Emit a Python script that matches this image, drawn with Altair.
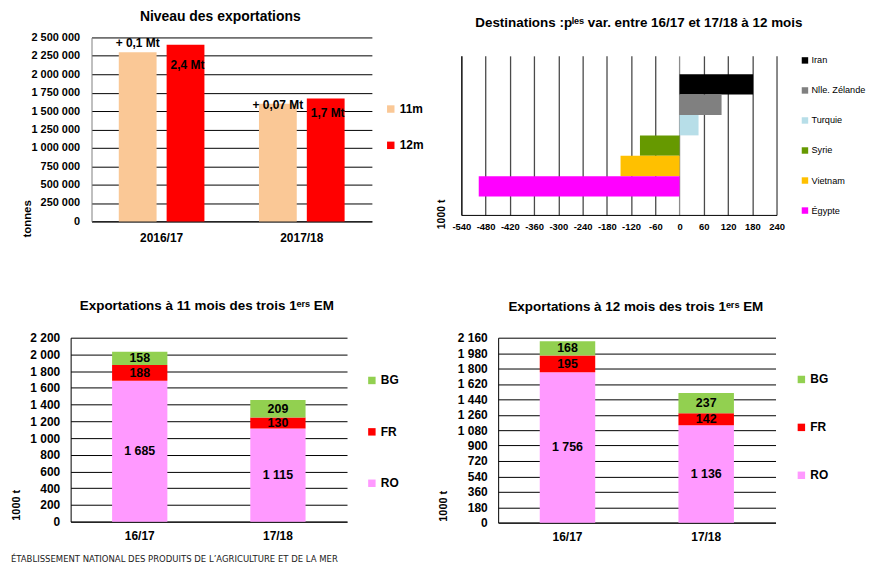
import altair as alt
import pandas as pd

FONT = "Liberation Sans"

# ---------------- Panel 1 : Niveau des exportations ----------------
periods = ["2016/17", "2017/18"]
months = ["11m", "12m"]
exports_11m = [2300000, 1600000]
exports_12m = [2400000, 1670000]
diff_labels = ["+ 0,1 Mt", "+ 0,07 Mt"]
total_labels = ["2,4 Mt", "1,7 Mt"]
month_colors = ["#FAC896", "#FF0000"]

# ---------------- Panel 2 : Destinations ----------------
destinations = ["Iran", "Nlle. Zélande", "Turquie", "Syrie", "Vietnam", "Égypte"]
variations = [182, 104, 47, -98, -146, -497]
dest_colors = ["#000000", "#808080", "#B7DEE8", "#669900", "#FFC000", "#FF00FF"]

# ---------------- Panels 3-4 : trois 1ers EM ----------------
seasons = ["16/17", "17/18"]
members = ["BG", "FR", "RO"]
member_colors = ["#92D050", "#FF0000", "#FF99FF"]
ro_11 = [1685, 1115]
fr_11 = [188, 130]
bg_11 = [158, 209]
ro_12 = [1756, 1136]
fr_12 = [195, 142]
bg_12 = [168, 237]

SPACE_EXPR = "replace(format(datum.value, ','), regexp(',', 'g'), ' ')"


def fmt(v):
    return f"{v:,}".replace(",", " ")


# ---------- Panel 1 ----------
df1 = pd.DataFrame({
    "period": periods * 2,
    "month": ["11m"] * 2 + ["12m"] * 2,
    "value": exports_11m + exports_12m,
    "label": diff_labels + total_labels,
})

x1_scale = alt.Scale(paddingInner=0, paddingOuter=0, range=[21, 303])
x1_axis = alt.Axis(title=None, labelAngle=0, labelFontSize=12, labelFontWeight="bold",
                   labelPadding=11, ticks=False, domainColor="black")
xo1_scale = alt.Scale(paddingInner=0.21, paddingOuter=0.57)
y1_scale = alt.Scale(domain=[0, 2500000], nice=False)
y1_axis = alt.Axis(values=list(range(0, 2500001, 250000)), labelExpr=SPACE_EXPR,
                   labelOverlap=False, offset=-21,
                   title="tonnes", titleX=-64, titleY=182, titleAngle=270,
                   titleBaseline="middle", titleFontSize=11.5, titleFontWeight="bold",
                   grid=True, gridColor="black", domainColor="#808080", ticks=False,
                   labelFontSize=11, labelFontWeight="bold", labelPadding=12)


def enc1():
    return dict(
        x=alt.X("period:N", sort=periods, scale=x1_scale, axis=x1_axis),
        xOffset=alt.XOffset("month:N", sort=months, scale=xo1_scale),
        y=alt.Y("value:Q", scale=y1_scale, axis=y1_axis),
    )


bars1 = alt.Chart(df1).mark_bar().encode(
    **enc1(),
    color=alt.Color("month:N", scale=alt.Scale(domain=months, range=month_colors),
                    legend=alt.Legend(title=None, orient="none", legendX=316, legendY=66,
                                      symbolType="square", symbolSize=56, symbolStrokeWidth=0,
                                      labelFontSize=12, labelFontWeight="bold", rowPadding=24.5,
                                      padding=0, labelOffset=3)),
)

text_specs = [
    ("11m", "2016/17", "bottom", -2, 0),
    ("11m", "2017/18", "bottom", 8, 0),
    ("12m", "2016/17", "middle", 20, 2),
    ("12m", "2017/18", "middle", 15, 2),
]
texts1 = []
for m, p, base, dy, dx in text_specs:
    texts1.append(
        alt.Chart(df1).transform_filter(
            (alt.datum.month == m) & (alt.datum.period == p)
        ).mark_text(fontSize=12, fontWeight="bold", color="black", baseline=base, dy=dy,
                    dx=dx).encode(**enc1(), text="label:N")
    )

p1 = alt.layer(bars1, *texts1).properties(
    width=303, height=185,
    title=alt.TitleParams("Niveau des exportations", fontSize=14, fontWeight="bold",
                          anchor="middle", frame="group", dx=-1, offset=8),
)

# ---------- Panel 2 ----------
df2 = pd.DataFrame({"dest": destinations, "var": variations})
x2 = alt.X("var:Q", scale=alt.Scale(domain=[-540, 240], nice=False),
           axis=alt.Axis(values=list(range(-540, 241, 60)), labelExpr="'' + datum.value",
                         labelOverlap=False, title=None, grid=True,
                         gridColor=alt.condition("datum.value === 0", alt.value("#8c8c8c"),
                                                 alt.value("#4a4a4a")),
                         gridWidth=1.3, ticks=False, domainColor="black",
                         labelFontSize=9.5, labelFontWeight="bold", labelPadding=7,
                         labelFlush=False))
y2 = alt.Y("dest:N", sort=destinations,
           scale=alt.Scale(paddingInner=0, paddingOuter=0.9),
           axis=alt.Axis(labels=False, ticks=False, title="1000 t", titleX=-20, titleY=159,
                         titleAngle=270, titleBaseline="middle", titleFontSize=10.5,
                         titleFontWeight="bold", domainColor="black"))
p2 = alt.Chart(df2).mark_bar().encode(
    x=x2, y=y2,
    color=alt.Color("dest:N", scale=alt.Scale(domain=destinations, range=dest_colors),
                    legend=alt.Legend(title=None, orient="none", legendX=341, legendY=0,
                                      symbolType="square", symbolSize=42, symbolStrokeWidth=0,
                                      labelFontSize=9.2, rowPadding=20.2, padding=0,
                                      labelOffset=2)),
).properties(width=317, height=160)

# title holder above panel 2 (empty view carrying the panel's title)
p2_title = alt.Chart(pd.DataFrame({"s": [0]})).mark_point(opacity=0).encode(
    x=alt.value(0), y=alt.value(0)
).properties(
    width=317, height=1,
    title=alt.TitleParams("Destinations :pˡᵉˢ var. entre 16/17 et 17/18 à 12 mois",
                          fontSize=13.5, fontWeight="bold", anchor="middle", frame="group",
                          dx=20, offset=5),
)


# ---------- Panels 3 & 4 ----------
def stack_panel(ro, fr, bg, ymax, step, title, width, height, legend_x, legend_y,
                row_pad, title_x, title_y, dx_title, title_offset):
    df = pd.DataFrame({
        "season": seasons * 3,
        "member": ["RO"] * 2 + ["FR"] * 2 + ["BG"] * 2,
        "value": ro + fr + bg,
        "order": [0, 0, 1, 1, 2, 2],
    })
    df["label"] = [fmt(v) for v in df["value"]]
    base = alt.Chart(df).transform_stack(
        stack="value", groupby=["season"], as_=["v0", "v1"],
        sort=[alt.SortField("order", "ascending")],
    ).transform_calculate(mid="(datum.v0 + datum.v1) / 2")
    x_scale = alt.Scale(paddingInner=0.6, paddingOuter=0.3)
    x_axis = alt.Axis(title=None, labelAngle=0, labelFontSize=12, labelFontWeight="bold",
                      labelPadding=9, ticks=False, domainColor="black")
    y_scale = alt.Scale(domain=[0, ymax], nice=False)
    y_axis = alt.Axis(values=list(range(0, ymax + 1, step)), labelExpr=SPACE_EXPR,
                      labelOverlap=False,
                      title="1000 t", titleX=title_x, titleY=title_y, titleAngle=270,
                      titleBaseline="middle", titleFontSize=11, titleFontWeight="bold",
                      grid=True, gridColor="black", domainColor="black", ticks=False,
                      labelFontSize=12, labelFontWeight="bold", labelPadding=11)
    bars = base.mark_bar().encode(
        x=alt.X("season:N", sort=seasons, scale=x_scale, axis=x_axis),
        y=alt.Y("v0:Q", scale=y_scale, axis=y_axis), y2="v1:Q",
        color=alt.Color("member:N", scale=alt.Scale(domain=members, range=member_colors),
                        legend=alt.Legend(title=None, orient="none", legendX=legend_x,
                                          legendY=legend_y, symbolType="square",
                                          symbolSize=56, symbolStrokeWidth=0,
                                          labelFontSize=12, labelFontWeight="bold",
                                          rowPadding=row_pad, padding=0, labelOffset=3)),
    )
    text = base.mark_text(fontSize=12.5, fontWeight="bold", color="black").encode(
        x=alt.X("season:N", sort=seasons, scale=x_scale, axis=x_axis),
        y=alt.Y("mid:Q", scale=y_scale, axis=y_axis), text="label:N")
    return alt.layer(bars, text).properties(
        width=width, height=height,
        title=alt.TitleParams(title, fontSize=13.5, fontWeight="bold", anchor="middle",
                              frame="group", dx=dx_title, offset=title_offset),
    )


p3 = stack_panel(ro_11, fr_11, bg_11, 2200, 200, "Exportations à 11 mois des trois 1ᵉʳˢ EM",
                 278, 185, 297, 37, 39.7, -54, 168, -2, 19)
p4 = stack_panel(ro_12, fr_12, bg_12, 2160, 180, "Exportations à 12 mois des trois 1ᵉʳˢ EM",
                 279, 186, 299, 36, 36.2, -55, 169, -1, 18)

right_top = alt.vconcat(p2_title, p2, spacing=15.5).resolve_scale(
    color="independent").resolve_legend(color="independent")
top = alt.hconcat(p1, right_top, spacing=12).resolve_scale(color="independent").resolve_legend(
    color="independent")
bottom = alt.hconcat(p3, p4, spacing=39).resolve_scale(color="independent").resolve_legend(
    color="independent")

chart = alt.vconcat(top, bottom, spacing=56).resolve_scale(color="independent").resolve_legend(
    color="independent").properties(
    title=alt.TitleParams("ÉTABLISSEMENT NATIONAL DES PRODUITS DE L’AGRICULTURE ET DE LA MER",
                          orient="bottom", anchor="start", fontSize=9.5, fontWeight="normal",
                          font="Liberation Sans Narrow, DejaVu Sans Condensed, Roboto Condensed, Liberation Sans, sans-serif",
                          color="#222222", offset=12),
).configure(
    font=FONT,
    padding={"left": 3, "top": 0, "right": 0, "bottom": 0},
).configure_view(
    stroke=None,
).configure_axis(
    labelColor="black", titleColor="black", labelFont=FONT, titleFont=FONT,
).configure_legend(
    labelColor="black", labelFont=FONT,
).configure_title(
    font=FONT, color="black",
)

chart.save("out.html", embed_options={"renderer": "svg", "actions": False})
